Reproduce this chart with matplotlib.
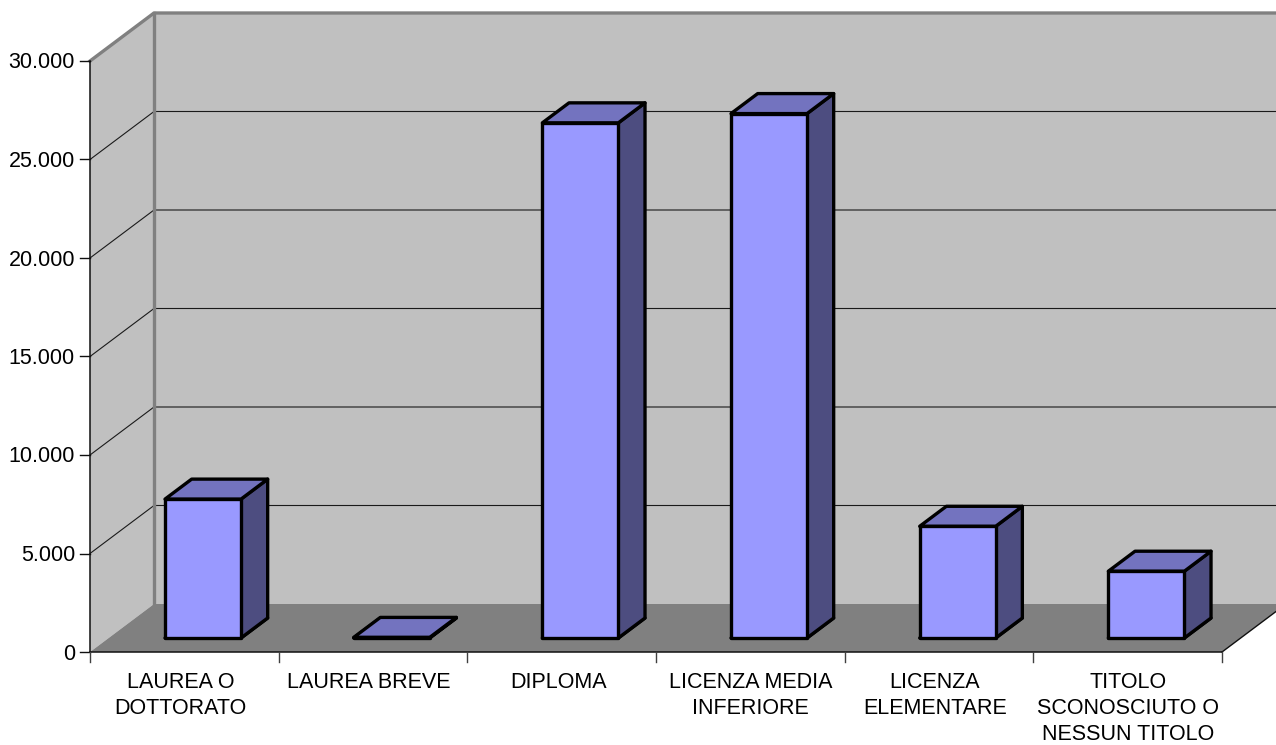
import matplotlib
matplotlib.use('Agg')
import matplotlib.pyplot as plt

categories = ['LAUREA O\nDOTTORATO', 'LAUREA BREVE', 'DIPLOMA', 'LICENZA MEDIA\nINFERIORE',
              'LICENZA\nELEMENTARE', 'TITOLO\nSCONOSCIUTO O\nNESSUN TITOLO']
values = [7050, 30, 26150, 26620, 5670, 3390]
y_ticks = [0, 5000, 10000, 15000, 20000, 25000, 30000]
y_labels = ['0', '5.000', '10.000', '15.000', '20.000', '25.000', '30.000']

plt.rcParams['font.family'] = ['Liberation Sans', 'DejaVu Sans']

# pixel scale of the plot, the axes cover the whole figure
cat_px = 188.67
val_px = 591 / 30000
fig = plt.figure(figsize=(12.76, 7.45), dpi=100)
ax = fig.add_axes([0, 0, 1, 1])
ax.set_xlim(-90 / cat_px, (1276 - 90) / cat_px)
ax.set_ylim(-93 / val_px, 30000 + 61 / val_px)
ax.axis('off')

# the "3d" depth of the box as a shift in data units
depth_x = 64 / cat_px
depth_y = 48 / val_px
n = len(categories)
top = y_ticks[-1]


def pt(x, v, d=0.0):
    return x + d * depth_x, v + d * depth_y


def poly(points, **kw):
    xs, ys = zip(*points)
    ax.fill(xs, ys, **kw)


# walls and floor
poly([pt(0, 0, 1), pt(n, 0, 1), pt(n, top, 1), pt(0, top, 1)], color='#C0C0C0', lw=0, zorder=1)
poly([pt(0, 0), pt(0, 0, 1), pt(0, top, 1), pt(0, top)], color='#C0C0C0', lw=0, zorder=1)
poly([pt(0, 0), pt(n, 0), pt(n, 0, 1), pt(0, 0, 1)], color='#808080', lw=0, zorder=1)

# grid lines
for v in y_ticks[1:-1]:
    xs, ys = zip(pt(0, v), pt(0, v, 1), pt(n, v, 1))
    ax.plot(xs, ys, color='#1a1a1a', lw=0.8, zorder=2)

# grey edges of the back wall
xs, ys = zip(pt(0, top), pt(0, top, 1), pt(n, top, 1))
ax.plot(xs, ys, color='#808080', lw=2.4, zorder=3)
xs, ys = zip(pt(0, 0, 1), pt(0, top, 1))
ax.plot(xs, ys, color='#808080', lw=2.4, zorder=3)

# axes lines and ticks
ax.plot([0, 0], [0, top], color='#101010', lw=1.1, zorder=4)
ax.plot([0, n], [0, 0], color='#101010', lw=1.1, zorder=4)
xs, ys = zip(pt(n, 0), pt(n, 0, 1))
ax.plot(xs, ys, color='#101010', lw=1, zorder=4)
for v, lab in zip(y_ticks, y_labels):
    ax.plot([-10 / cat_px, 0], [v, v], color='#101010', lw=1, zorder=4)
    ax.text(-15 / cat_px, v - 2 / val_px, lab, ha='right', va='center', fontsize=15.5, color='black')
for i in range(n + 1):
    ax.plot([i, i], [0, -10 / val_px], color='#404040', lw=1, zorder=4)
# some labels sit a few pixels left of the slot centre
label_shift = [-4, -4, -3, 0, -4, 0]
for i, lab in enumerate(categories):
    ax.text(i + 0.5 + label_shift[i] / cat_px, -20 / val_px, lab, ha='center', va='top',
            fontsize=15.5, color='black', linespacing=1.31)

# bars, the depth shift moves them off the slot centre
bar_w = 76 / cat_px
bar_d0 = 14 / 48
bar_d1 = 34 / 48
edge = dict(ec='black', lw=2.4, joinstyle='round', zorder=5)
for i, v in enumerate(values):
    x0 = i + 0.5 - bar_w / 2
    x1 = x0 + bar_w
    poly([pt(x0, 0, bar_d0), pt(x1, 0, bar_d0), pt(x1, 0, bar_d1), pt(x0, 0, bar_d1)],
         fc='#7373BF', **edge)
    poly([pt(x1, 0, bar_d0), pt(x1, 0, bar_d1), pt(x1, v, bar_d1), pt(x1, v, bar_d0)],
         fc='#4D4D80', **edge)
    poly([pt(x0, v, bar_d0), pt(x1, v, bar_d0), pt(x1, v, bar_d1), pt(x0, v, bar_d1)],
         fc='#7373BF', **edge)
    poly([pt(x0, 0, bar_d0), pt(x1, 0, bar_d0), pt(x1, v, bar_d0), pt(x0, v, bar_d0)],
         fc='#9999FF', **edge)

fig.savefig('out.png', dpi=100, facecolor='white')
